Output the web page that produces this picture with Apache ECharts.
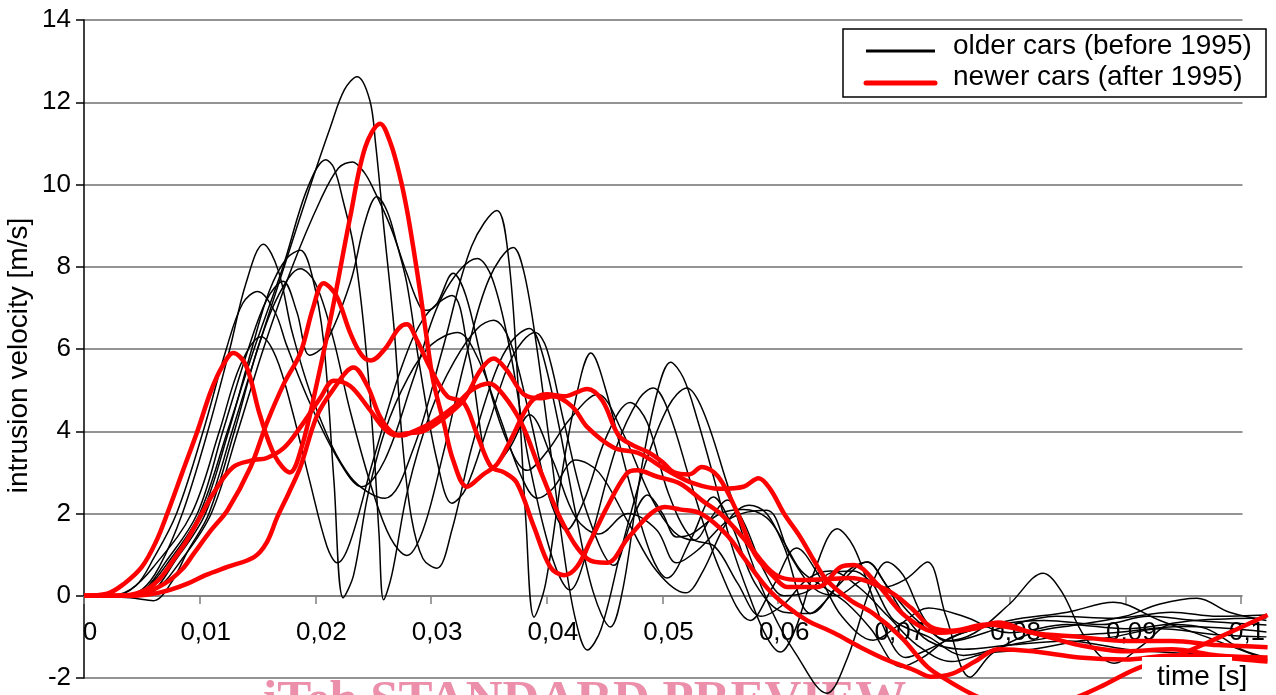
<!DOCTYPE html>
<html>
<head>
<meta charset="utf-8">
<script src="https://cdn.jsdelivr.net/npm/echarts@6/dist/echarts.min.js"></script>
<style>html,body{margin:0;padding:0;background:#fff}#c{width:1276px;height:695px}</style>
</head>
<body>
<div id="c"></div>
<script>
// time in ms, velocity in m/s
const xTickValues = [0, 10, 20, 30, 40, 50, 60, 70, 80, 90, 100];
const xTickLabels = ['0','0,01','0,02','0,03','0,04','0,05','0,06','0,07','0,08','0,09','0,1'];
const yTickLabels = ['-2','0','2','4','6','8','10','12','14'];
const legendNames = ['older cars (before 1995)', 'newer cars (after 1995)'];

const older1 = [[0,0],[3,0],[5,0.15],[6.5,0.7],[8.5,2],[10.7,4],[12.6,6],[14,7.6],[15.5,8.55],[16.8,7.9],[18,6.4],[20,4.6],[23,2.9],[26,2.37],[28.5,3.6],[31,6],[33.5,8.5],[35.7,9.37],[36.7,8.2],[37.5,5.2],[38.2,1.8],[38.9,-0.52],[39.9,0.3],[41.5,3.3],[43,5.4],[43.8,5.9],[45,5.1],[47,2.9],[49,1.0],[50.4,0.43],[52.5,1.4],[54.4,2.4],[56,1.7],[58,0.3],[60.5,-0.4],[62.8,-0.43],[65,0.2],[67.7,0.82],[69.5,0.2],[72,-0.6],[75,-1.1],[79,-0.8],[84,-0.5],[89,-0.55],[94,-0.4],[98,-0.5],[102.2,-0.47]];
const older2 = [[0,0],[2.5,0],[4.5,0.25],[6,0.9],[8,2],[10.3,4],[12.3,6],[13.7,7.1],[15,7.4],[16.5,6.9],[17.5,6.1],[19.5,4.7],[22,3.3],[24,2.65],[26,3.3],[28.5,5.3],[31,7.3],[34,8.2],[35.3,7.7],[36.8,6],[38.5,3.2],[40.5,0.9],[42,0.14],[43.5,1.1],[46,3.6],[48,4.8],[49.2,5.05],[50.5,4.5],[52.5,2.7],[55,0.6],[57.6,-0.6],[59.5,0.2],[61.6,1.16],[63.5,0.5],[65.5,-0.5],[68.2,-1.08],[70.5,-0.7],[73,-0.3],[76,-0.5],[80,-0.9],[85,-0.7],[90,-0.8],[96,-0.6],[102.2,-0.54]];
const older3 = [[0,0],[2,0],[4,0.15],[6,0.7],[9.3,2],[11.7,4],[13.5,5.6],[15.3,6.3],[16.6,5.8],[18,4.5],[19.5,2.8],[21,1.2],[21.9,0.8],[23,1.3],[25,3.3],[27.5,5.6],[29.5,6.8],[31.8,7.3],[33.3,5.8],[35.3,3.1],[36.8,3.6],[38.5,4.4],[40.5,3.3],[42.5,1.9],[44.5,1.5],[47,2.0],[49.5,1.6],[51.2,0.8],[53,1.1],[56,1.9],[59,2.08],[61,1.0],[63,0.2],[65,0.0],[67.5,0.4],[70,-0.6],[73,-1.0],[76,-1.45],[80,-1.2],[84,-1.0],[89,-0.9],[95,-0.75],[102.2,-0.88]];
const older4 = [[0,0],[3,0],[5,0.1],[7,0.8],[9.8,2],[12,4],[14.2,6],[15.8,7.2],[17.2,7.65],[18.4,6.9],[19.5,5.85],[20.8,6.1],[23,7.6],[24.3,9.1],[25.3,9.7],[26.2,9.35],[27,8.6],[27.9,7.6],[29,5.6],[30.5,3.3],[31.8,2.25],[33,2.6],[35,4.2],[37,5.8],[39,6.4],[40,6.0],[41.5,4.2],[43.5,2.0],[45.8,0.74],[47.3,1.8],[48.7,2.45],[50,2.0],[51.2,1.43],[52.5,1.5],[55,2.0],[57,2.1],[59,1.9],[60.5,1.3],[62,0.6],[64,0.2],[66,-0.2],[68,-0.8],[70.6,-1.73],[72.5,-1.5],[75,-1.0],[79,-0.7],[83,-0.6],[88,-0.7],[92,-0.5],[96,-0.6],[102.2,-0.71]];
const older5 = [[0,0],[3.5,0],[5.5,0.1],[7.5,0.8],[10.2,2],[12.5,4],[14.5,6],[16,7.4],[17.5,8.2],[18.7,8.4],[19.7,7.8],[20.7,6.2],[21.6,2.8],[22.4,-0.05],[23.3,0.5],[24.5,2.4],[26,4.0],[28,5.3],[30,6.1],[32.3,6.4],[34,5.8],[36,4.3],[37.8,2.9],[39.2,2.37],[40.5,2.6],[42.5,3.3],[44.5,3.0],[47,1.8],[49.5,0.6],[52,0.07],[53.5,0.6],[55.6,1.8],[57.5,2.2],[59,2.0],[60.5,1.2],[62.8,-0.43],[64.5,0],[66,0.6],[67.7,0.82],[69,0.4],[71,-0.5],[73,-1.1],[76,-1.3],[80,-1.2],[85,-1.1],[90,-1.3],[95,-1.4],[102.2,-1.49]];
const older6 = [[0,0],[4,-0.05],[6,-0.12],[7.5,0.3],[9,1.1],[10.8,2],[13,4],[15,6],[16.8,7.3],[18.7,7.95],[20,7.6],[21.5,6.3],[23,4.5],[25,2.5],[26.5,1.4],[27.9,0.98],[29.3,1.6],[31,3.4],[33,5.8],[35,7.7],[37.1,8.47],[38,7.9],[39,6.3],[40.2,3.8],[41.5,1.0],[42.5,-0.6],[43.5,-1.32],[44.7,-0.8],[46.5,1.2],[48.5,3.2],[50.5,4.6],[52.1,5.05],[53.5,4.5],[55.5,2.8],[57.5,1.0],[59.5,-0.4],[61.5,-1.4],[64.2,-2.37],[66,-1.5],[68,0.2],[69.4,0.82],[70.8,0.5],[72.5,-0.5],[74.5,-1.1],[77,-0.9],[80,-0.2],[82.9,0.55],[84.5,0.1],[86.5,-1.0],[89,-1.64],[91.5,-1.2],[94,-0.7],[97,-0.8],[100,-1.3],[102.2,-1.5]];
const older7 = [[0,0],[3,0],[5,0.1],[7.5,0.9],[10,2],[12.4,4],[14.7,6],[17.2,8],[19.3,9.9],[20.9,10.6],[21.6,10.4],[22.4,9.6],[23.3,8.5],[24.2,6.5],[25,3.8],[25.5,1.5],[25.9,-0.1],[26.6,0.5],[28,2.6],[30,4.5],[32,5.7],[34,6.5],[35.4,6.7],[36.8,6.2],[38.5,4.4],[40.2,2.4],[41.7,1.6],[43.2,2.3],[45.2,3.9],[47.2,4.7],[48.7,4.2],[50.5,2.5],[52.5,1.4],[54.5,1.2],[56.5,0.3],[58.5,-0.5],[60.5,-0.2],[62.5,0.4],[64.5,0.6],[67,0.2],[69.5,-0.5],[72,-1.2],[75,-1.6],[78,-1.4],[82,-1.3],[86,-1.1],[89,-1.0],[93,-0.8],[98,-0.95],[102.2,-1.0]];
const older8 = [[0,0],[3.5,0],[5.5,0.05],[8,0.9],[10.5,2],[12.8,4],[15,6],[17.3,8],[19.6,10],[21.3,11.4],[22.5,12.3],[23.6,12.62],[24.7,12.05],[25.2,11.0],[25.9,9.0],[26.8,6.5],[27.5,3.8],[28.3,1.9],[29.3,0.9],[30.5,0.67],[31.8,1.6],[33.5,3.6],[35.5,5.4],[37,6.2],[38.5,6.5],[39.5,6.0],[41,4.2],[42.5,2.0],[44,0.1],[45.5,-0.76],[46.6,0.2],[48,2.8],[49.5,4.9],[50.7,5.68],[51.8,5.3],[53,4.3],[54.5,2.8],[56,1.2],[57.5,0],[59,-1.0],[60.2,-1.37],[61.5,-0.8],[63,0.5],[65.1,1.63],[66.5,1.2],[68,0.1],[69.5,-1.0],[71,-1.5],[73,-1.3],[76,-0.9],[80,-0.6],[85,-0.4],[89,-0.16],[93,-0.6],[97,-1.0],[102.2,-1.56]];
const older9 = [[0,0],[4,0],[6,0.1],[8.5,0.9],[11,2],[13.3,4],[15.5,6],[18,8],[20.4,9.6],[22,10.4],[23.2,10.55],[24.2,10.3],[25,9.9],[26.5,8.97],[27.9,7.84],[29.1,7.0],[29.7,6.94],[30.5,7.1],[31.9,7.84],[33,7.3],[34.5,5.6],[36.5,3.8],[38.3,3.05],[40,3.5],[42,4.3],[44.4,4.9],[46.5,4.0],[49,2.4],[51,1.55],[52.7,1.35],[54.2,1.9],[55.6,2.33],[57,1.8],[58.8,0.6],[60.5,0.0],[62.5,0.1],[64.5,0.55],[66.5,0.6],[69,0.2],[71,0.4],[72.9,0.82],[74.5,-0.5],[76.6,-1.98],[78.5,-1.4],[82,-0.9],[86,-0.7],[90,-0.5],[93,-0.2],[96.2,-0.06],[99,-0.4],[102.2,-0.6]];

const newer1 = [[0,0],[2,0.05],[3.5,0.3],[5,0.7],[6.2,1.3],[7.2,2],[8.5,3],[9.8,4],[11,5],[12,5.6],[12.9,5.9],[14,5.6],[15.2,4.4],[16.5,3.4],[17.8,3.0],[18.8,3.6],[20,5.0],[21.5,7.0],[23,9.2],[24.3,10.9],[25.6,11.48],[26.5,11.0],[27.3,10.2],[27.9,9.4],[28.5,8.4],[29.1,7.3],[29.7,6.1],[30.2,5.2],[31.1,4.2],[31.9,3.3],[33.1,2.65],[34.5,2.95],[35.7,3.2],[36.9,3.8],[38.6,4.7],[40,4.9],[41.5,4.85],[43.5,5.03],[44.8,4.75],[46.2,3.9],[47.5,3.65],[48.7,3.5],[50,3.25],[51,3.0],[52.3,2.95],[53.4,3.13],[54.8,2.9],[56.5,2.0],[58,1.0],[59.9,0.38],[60.8,0.21],[63.4,0.21],[65.4,0.7],[66.5,0.75],[68.5,0.3],[71,-0.5],[74,-0.9],[77,-0.8],[79,-0.65],[82,-0.9],[86,-1.0],[90,-1.1],[94,-1.1],[98,-1.2],[102.3,-1.25]];
const newer2 = [[0,0],[3,0],[5,0.1],[6.5,0.4],[7.8,0.9],[8.9,1.35],[10,1.9],[11.2,2.5],[12.9,3.13],[14.7,3.3],[15.8,3.35],[17.3,3.6],[18.7,4.1],[20.4,4.8],[21.6,5.23],[23,5.1],[24.5,4.6],[26,4.05],[27,3.9],[28,3.95],[29.3,4.0],[31,4.3],[32.8,4.75],[34.3,5.5],[35.4,5.77],[36.5,5.5],[38,4.9],[39.5,4.8],[40.5,4.85],[42.2,4.6],[43.5,4.1],[45.8,3.6],[48,3.46],[50.4,3.05],[52.7,2.73],[55,2.6],[57,2.65],[58.3,2.86],[59.3,2.6],[60.5,2.0],[61.9,1.43],[63,0.9],[64.2,0.38],[66.2,-0.1],[68.2,-0.43],[70.6,-1.0],[72.9,-1.73],[74.6,-2.05],[76.6,-2.37],[78.5,-2.6],[80.5,-2.75],[83,-2.7],[85.5,-2.5],[87.8,-2.22],[91,-1.77],[94.2,-1.49],[98.2,-1.0],[102.3,-0.47]];
const newer3 = [[0,0],[3,0],[5,0.05],[7,0.3],[8.5,0.65],[9.5,1.03],[11,1.6],[12.4,2.08],[14.4,3.13],[15.8,4.2],[17.3,5.17],[18.7,5.9],[19.8,7.0],[20.7,7.6],[21.8,7.3],[23,6.4],[24,5.85],[24.8,5.72],[26,6.0],[27.2,6.5],[27.9,6.6],[28.8,6.2],[29.9,5.55],[31.4,4.85],[32.8,4.7],[34,3.9],[35.2,3.13],[36.3,3.0],[37.4,2.75],[38.9,1.67],[40.3,0.7],[41.5,0.5],[42.6,0.7],[43.8,1.35],[45.2,2.15],[46.9,2.97],[47.8,3.05],[49.5,2.9],[51.5,2.73],[53.5,2.3],[55,2.0],[57,1.4],[59,0.7],[60.2,0.45],[62,0.38],[64,0.4],[66.2,0.43],[69.4,0.14],[71.5,-0.3],[73.2,-0.76],[75,-0.85],[78,-0.7],[82,-0.9],[86,-1.2],[90,-1.35],[94,-1.3],[98,-1.45],[102.3,-1.5]];
const newer4 = [[0,0],[4,0],[6,0.05],[7.5,0.15],[9,0.3],[10.5,0.5],[12.4,0.7],[14.7,0.94],[15.8,1.3],[16.7,1.91],[17.7,2.5],[18.7,3.13],[20.1,4.35],[21.5,5.0],[23.3,5.55],[24.5,5.1],[25.5,4.4],[26.5,4.0],[27.5,3.9],[28.5,4.0],[30,4.2],[32,4.6],[33.5,5.0],[35,5.16],[36.2,4.9],[37.8,4.2],[39.5,3.0],[41.5,1.7],[43.5,0.9],[45.2,0.8],[47,1.4],[49,2.0],[50.2,2.16],[51.5,2.1],[53.3,2.0],[55.5,1.5],[57,0.94],[59,0.2],[60.8,-0.27],[62.5,-0.6],[64.8,-0.9],[67.1,-1.25],[69.4,-1.56],[71.7,-1.8],[73.2,-1.97],[75,-1.9],[77,-1.6],[79,-1.3],[82,-1.35],[86,-1.5],[90,-1.55],[94,-1.45],[98,-1.5],[102.3,-1.6]];

const olderCars = [older1, older2, older3, older4, older5, older6, older7, older8, older9];
const newerCars = [newer1, newer2, newer3, newer4];

const FONT = 'Liberation Sans, Arial, sans-serif';
const series = [];
olderCars.forEach(d => series.push({
  type: 'line', name: legendNames[0], data: d, showSymbol: false, smooth: 0.35,
  clip: false, silent: true, z: 3, lineStyle: { color: '#000', width: 1.5 }
}));
newerCars.forEach(d => series.push({
  type: 'line', name: legendNames[1], data: d, showSymbol: false, smooth: 0.35,
  clip: false, silent: true, z: 4, lineStyle: { color: '#ff0000', width: 4.5 }
}));

const chart = echarts.init(document.getElementById('c'), null, { renderer: 'canvas' });
chart.setOption({
  animation: false,
  backgroundColor: '#fff',
  grid: { left: 84, right: 8.4, top: 20, bottom: 17, containLabel: false, outerBoundsMode: 'none' },
  xAxis: {
    type: 'value', min: 0, max: 102.3, interval: 10, position: 'bottom',
    offset: -82,
    axisLine: { onZero: false, lineStyle: { color: '#808080', width: 1.5 } },
    axisTick: { show: true, length: 8, customValues: xTickValues, lineStyle: { color: '#808080', width: 1.5 } },
    splitLine: { show: false },
    axisLabel: {
      color: '#000', fontSize: 26, fontFamily: FONT, margin: 24, padding: [0, 0, 0, 12],
      customValues: xTickValues,
      formatter: v => { const i = xTickValues.indexOf(Math.round(v)); return i < 0 ? '' : xTickLabels[i]; }
    }
  },
  yAxis: {
    type: 'value', min: -2, max: 14, interval: 2,
    axisLine: { show: true, lineStyle: { color: '#000', width: 1.5 } },
    axisTick: { show: true, length: 8, lineStyle: { color: '#000', width: 1.5 } },
    splitLine: { show: true, lineStyle: { color: '#707070', width: 1.5 } },
    axisLabel: {
      color: '#000', fontSize: 26, fontFamily: FONT, margin: 13,
      formatter: v => yTickLabels[Math.round((v + 2) / 2)]
    },
    name: 'intrusion velocity [m/s]', nameLocation: 'middle', nameGap: 51, nameMoveOverlap: false,
    nameTextStyle: { color: '#000', fontSize: 28, fontFamily: FONT, padding: [0, 13, 0, 0] }
  },
  series: series,
  graphic: [
    { type: 'rect', z: 1, silent: true, shape: { x: 1242.5, y: 0, width: 34, height: 599 }, style: { fill: '#fff' } },
    { type: 'rect', z: 1, silent: true, shape: { x: 1232, y: 655, width: 44, height: 40 }, style: { fill: '#fff' } },
    { type: 'text', z: 1, left: 263, top: 676, style: { text: 'iTeh STANDARD PREVIEW', font: 'bold 51px "Liberation Serif", "DejaVu Serif", serif', fill: '#ec8fab' } },
    { type: 'rect', z: 100, shape: { x: 1142, y: 657, width: 90, height: 38 }, style: { fill: '#fff' } },
    { type: 'text', z: 101, x: 1157, y: 677, style: { text: 'time [s]', font: '28px ' + FONT, fill: '#000', verticalAlign: 'middle' } },
    { type: 'rect', z: 100, shape: { x: 843, y: 29, width: 423, height: 68 }, style: { fill: '#fff', stroke: '#000', lineWidth: 1.5 } },
    { type: 'line', z: 101, shape: { x1: 866, y1: 51, x2: 935, y2: 51 }, style: { stroke: '#000', lineWidth: 3 } },
    { type: 'line', z: 101, shape: { x1: 866, y1: 83, x2: 935, y2: 83 }, style: { stroke: '#ff0000', lineWidth: 5, lineCap: 'round' } },
    { type: 'text', z: 101, x: 953, y: 46, style: { text: legendNames[0], font: '28px ' + FONT, fill: '#000', verticalAlign: 'middle' } },
    { type: 'text', z: 101, x: 953, y: 77, style: { text: legendNames[1], font: '28px ' + FONT, fill: '#000', verticalAlign: 'middle' } }
  ]
});
</script>
</body>
</html>
